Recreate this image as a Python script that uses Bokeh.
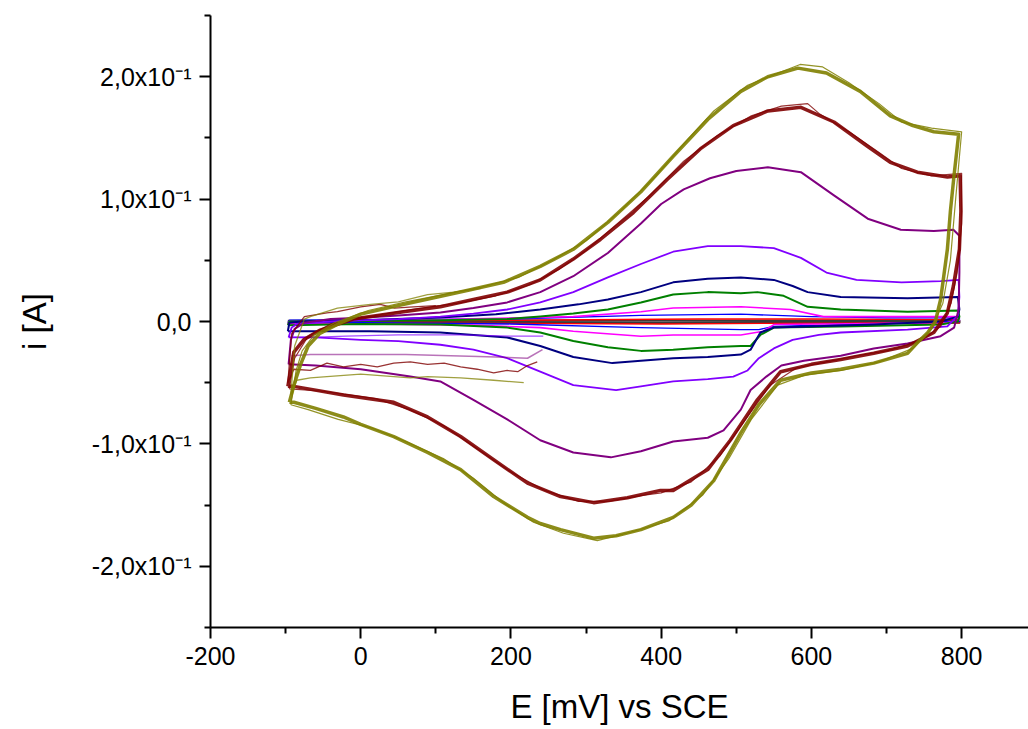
from bokeh.plotting import figure
from bokeh.models import FixedTicker, CustomJSTickFormatter, Range1d
from bokeh.embed import file_html
from bokeh.resources import INLINE

# ---------------- data (E in mV vs SCE, i in A) ----------------
X_TICKS = [-200, 0, 200, 400, 600, 800]
X_MINOR = [-100, 100, 300, 500, 700]
Y_TICKS = [-0.2, -0.1, 0.0, 0.1, 0.2]
Y_MINOR = [-0.25, -0.15, -0.05, 0.05, 0.15, 0.25]

OLIVE_1 = [(-95,-0.066),(-88,-0.050),(-80,-0.035),(-70,-0.020),(-55,-0.010),(-30,-0.002),(0,0.006),(50,0.013),
           (102,0.020),(146,0.026),(190,0.032),(239,0.045),(283,0.059),(329,0.081),(373,0.106),(416,0.135),
           (462,0.165),(506,0.188),(542,0.200),(582,0.207),(620,0.203),(665,0.188),(705,0.168),(735,0.160),
           (763,0.155),(796,0.153),(790,0.120),(785,0.090),(781,0.059),(772,0.018),(765,0.000),(755,-0.009),
           (740,-0.018),(728,-0.026),(683,-0.034),(639,-0.039),(600,-0.042),(559,-0.048),(530,-0.068),
           (506,-0.091),(470,-0.130),(440,-0.150),(416,-0.160),(373,-0.170),(340,-0.175),(310,-0.177),
           (266,-0.170),(239,-0.165),(222,-0.160),(177,-0.143),(133,-0.121),(89,-0.107),(44,-0.094),
           (0,-0.084),(-23,-0.078),(-60,-0.071),(-89,-0.066),(-95,-0.066)]
OLIVE_2 = [(-93,-0.068),(-86,-0.040),(-78,-0.024),(-62,-0.011),(-35,-0.001),(10,0.009),(60,0.016),(110,0.022),
           (160,0.028),(210,0.036),(255,0.050),(300,0.066),(345,0.090),(390,0.117),(430,0.145),(470,0.172),
           (515,0.193),(560,0.204),(585,0.210),(615,0.208),(650,0.195),(690,0.178),(720,0.163),(760,0.158),
           (800,0.155),(792,0.100),(785,0.050),(775,0.015),(760,-0.006),(735,-0.022),(690,-0.033),
           (640,-0.040),(590,-0.044),(555,-0.052),(520,-0.080),(490,-0.112),(455,-0.142),(410,-0.163),
           (360,-0.172),(315,-0.179),(270,-0.173),(230,-0.164),(190,-0.148),(150,-0.128),(110,-0.112),
           (60,-0.098),(15,-0.087),(-30,-0.080),(-70,-0.072),(-93,-0.068)]
OLIVE_START = [(217,-0.050),(177,-0.048),(133,-0.046),(89,-0.045),(66,-0.046),(22,-0.044),(0,-0.043),
               (-45,-0.045),(-67,-0.046),(-85,-0.048),(-93,-0.060),(-88,-0.020),(-75,0.002),(-67,0.004),
               (-31,0.011),(13,0.014),(50,0.016),(89,0.022),(124,0.024),(160,0.027)]

DARKRED_1 = [(-97,-0.053),(-92,-0.035),(-89,-0.025),(-76,-0.015),(-54,-0.007),(-10,0.002),(57,0.008),
             (106,0.012),(150,0.018),(195,0.024),(239,0.034),(283,0.051),(319,0.067),(363,0.089),(408,0.116),
             (452,0.141),(496,0.160),(542,0.172),(586,0.175),(630,0.163),(675,0.143),(705,0.130),(741,0.122),
             (781,0.118),(798,0.119),(799,0.090),(797,0.059),(789,0.029),(781,0.007),(763,-0.009),
             (728,-0.020),(683,-0.026),(639,-0.031),(600,-0.035),(559,-0.041),(528,-0.064),(492,-0.097),
             (462,-0.121),(416,-0.138),(399,-0.138),(355,-0.144),(310,-0.148),(266,-0.143),(222,-0.132),
             (177,-0.113),(133,-0.094),(89,-0.078),(44,-0.066),(-23,-0.060),(-89,-0.053),(-97,-0.053)]
DARKRED_2 = [(-95,-0.055),(-88,-0.030),(-70,-0.012),(-40,-0.002),(10,0.004),(70,0.010),(130,0.015),
             (180,0.021),(225,0.030),(265,0.043),(300,0.058),(340,0.079),(385,0.103),(430,0.131),
             (475,0.152),(520,0.168),(560,0.176),(595,0.178),(610,0.170),(650,0.155),(690,0.138),
             (720,0.125),(760,0.119),(800,0.121),(800,0.080),(794,0.040),(786,0.015),(772,-0.004),
             (745,-0.016),(700,-0.024),(660,-0.028),(620,-0.033),(580,-0.038),(545,-0.052),(510,-0.082),
             (478,-0.110),(440,-0.131),(400,-0.140),(375,-0.142),(330,-0.147),(290,-0.147),(245,-0.138),
             (200,-0.123),(155,-0.104),(110,-0.085),(65,-0.072),(20,-0.063),(-50,-0.057),(-95,-0.055)]
DARKRED_START = [(235,-0.033),(222,-0.036),(209,-0.041),(195,-0.040),(177,-0.042),(155,-0.039),(133,-0.037),
                 (111,-0.034),(89,-0.035),(66,-0.033),(44,-0.034),(22,-0.037),(0,-0.035),(-23,-0.037),
                 (-45,-0.034),(-67,-0.040),(-89,-0.039),(-97,-0.050),(-92,-0.010),(-75,0.004),(-45,0.007),
                 (-31,0.008),(0,0.012),(26,0.014),(45,0.011),(70,0.012),(100,0.013)]

PURPLE_1 = [(-96,-0.035),(-93,-0.015),(-88,-0.006),(-75,-0.001),(-40,0.002),(0,0.003),(50,0.005),(106,0.0074),
            (150,0.011),(195,0.0156),(239,0.024),(283,0.037),(329,0.056),(373,0.080),(400,0.096),(430,0.108),
            (465,0.117),(500,0.123),(542,0.126),(586,0.122),(630,0.103),(675,0.084),(719,0.075),(763,0.074),
            (789,0.075),(797,0.070),(797,0.040),(796,0.010),(790,-0.005),(772,-0.012),(728,-0.018),
            (683,-0.022),(639,-0.028),(590,-0.032),(560,-0.036),(540,-0.045),(519,-0.056),(506,-0.072),
            (483,-0.089),(462,-0.095),(416,-0.098),(373,-0.106),(333,-0.111),(283,-0.107),(239,-0.097),
            (195,-0.080),(150,-0.064),(106,-0.049),(66,-0.045),(0,-0.039),(-60,-0.036),(-96,-0.035)]
PURPLE_START = [(242,-0.023),(222,-0.030),(180,-0.029),(120,-0.028),(60,-0.027),(0,-0.027),(-67,-0.027),
                (-92,-0.028)]

VIOLET_1 = [(-96,-0.013),(-92,-0.005),(-85,-0.002),(-40,0.0),(0,0.001),(50,0.002),(106,0.004),(150,0.0065),
            (195,0.0098),(239,0.0156),(283,0.024),(329,0.036),(373,0.047),(416,0.057),(462,0.0615),
            (506,0.0615),(550,0.060),(586,0.052),(620,0.040),(660,0.034),(720,0.032),(772,0.033),(796,0.034),
            (797,0.020),(795,0.005),(781,-0.004),(728,-0.0066),(639,-0.009),(610,-0.011),(575,-0.015),
            (550,-0.022),(530,-0.030),(515,-0.040),(496,-0.045),(462,-0.047),(416,-0.049),(373,-0.053),
            (340,-0.056),(283,-0.052),(239,-0.041),(195,-0.030),(150,-0.023),(106,-0.019),(50,-0.016),
            (0,-0.015),(-60,-0.013),(-96,-0.013)]
VIOLET_START = [(243,-0.012),(200,-0.012),(133,-0.011),(50,-0.011),(-20,-0.012),(-67,-0.013),(-92,-0.013)]

NAVY_1 = [(-97,-0.008),(-95,-0.001),(-80,0.0),(0,0.001),(106,0.0033),(180,0.006),(239,0.0098),(290,0.014),
          (329,0.018),(373,0.024),(416,0.032),(462,0.035),(506,0.036),(550,0.034),(575,0.029),(595,0.024),
          (639,0.020),(728,0.019),(795,0.020),(797,0.010),(795,0.004),(772,0.0),(683,-0.0025),(595,-0.004),
          (550,-0.005),(532,-0.009),(519,-0.023),(506,-0.027),(462,-0.029),(416,-0.030),(373,-0.032),
          (335,-0.034),(283,-0.029),(239,-0.020),(195,-0.013),(106,-0.009),(13,-0.008),(-97,-0.008)]

GREEN_1 = [(-97,-0.003),(-95,0.0),(0,0.0005),(106,0.001),(195,0.002),(239,0.004),(283,0.0065),(329,0.0098),
           (373,0.0156),(416,0.022),(462,0.024),(506,0.023),(528,0.024),(563,0.021),(595,0.012),(639,0.0098),
           (728,0.008),(795,0.009),(797,0.004),(795,0.0),(772,-0.0025),(639,-0.004),(550,-0.005),
           (532,-0.011),(519,-0.020),(506,-0.020),(462,-0.021),(416,-0.023),(373,-0.024),(329,-0.021),
           (283,-0.016),(239,-0.009),(195,-0.005),(106,-0.0025),(0,-0.002),(-97,-0.003)]

MAGENTA_1 = [(-97,-0.002),(-95,0.0),(100,0.0015),(283,0.004),(373,0.008),(416,0.011),(506,0.012),(572,0.0098),
             (616,0.004),(700,0.004),(795,0.004),(797,0.001),(780,-0.001),(550,-0.0025),(536,-0.008),
             (506,-0.011),(416,-0.011),(373,-0.012),(283,-0.008),(239,-0.005),(150,-0.003),(0,-0.002),
             (-97,-0.002)]

BLUE_1 = [(-97,-0.001),(-95,0.001),(200,0.002),(373,0.005),(506,0.006),(600,0.004),(700,0.003),(797,0.003),
          (797,0.0),(550,-0.004),(530,-0.0066),(506,-0.0066),(373,-0.005),(200,-0.002),(0,-0.001),(-97,-0.001)]

RED_1 = [(-97,0.0),(200,0.001),(450,0.002),(600,0.002),(797,0.0015),(797,-0.001),(550,-0.0015),(400,-0.002),
         (200,-0.0015),(-97,-0.001)]

BLACK_1 = [(-97,0.0005),(400,0.0008),(797,0.0005),(797,-0.001),(400,-0.0012),(-97,-0.0008)]

# ---------------- figure ----------------
p = figure(width=1028, height=729, x_range=Range1d(-200, 889), y_range=Range1d(-0.25, 0.25),
           output_backend="svg", toolbar_location=None,
           min_border_left=210, min_border_right=0, min_border_top=15, min_border_bottom=102)
p.outline_line_color = None
p.grid.visible = False
p.background_fill_color = "white"
p.border_fill_color = "white"

def draw(pairs, color, width, alpha=1.0):
    xs = [a for a, b in pairs]
    ys = [b for a, b in pairs]
    p.line(xs, ys, line_color=color, line_width=width, line_alpha=alpha, line_join="round")

draw(BLACK_1, "#3a3a3a", 2.2)
draw(RED_1, "#FF0000", 1.4)
draw(BLUE_1, "#0000FF", 1.4)
draw(MAGENTA_1, "#FF00FF", 1.6)
draw(GREEN_1, "#008000", 2.0)
draw(NAVY_1, "#000080", 2.0)
draw(VIOLET_START, "#8000FF", 1.3, 0.7)
draw(VIOLET_1, "#8000FF", 1.8)
draw(PURPLE_START, "#800080", 1.6, 0.55)
draw(PURPLE_1, "#800080", 2.0)
draw(DARKRED_START, "#800000", 1.3, 0.8)
draw(DARKRED_2, "#800000", 1.2, 0.8)
draw(DARKRED_1, "#800000", 3.5, 0.9)
draw(OLIVE_START, "#808000", 1.3, 0.75)
draw(OLIVE_2, "#808000", 1.2, 0.85)
draw(OLIVE_1, "#808000", 3.5, 0.9)

# ---------------- axes ----------------
p.xaxis.ticker = FixedTicker(ticks=X_TICKS, minor_ticks=X_MINOR)
p.yaxis.ticker = FixedTicker(ticks=Y_TICKS, minor_ticks=Y_MINOR)
p.xaxis.formatter = CustomJSTickFormatter(code="return tick.toFixed(0);")
p.yaxis.formatter = CustomJSTickFormatter(code="""
    if (Math.abs(tick) < 1e-9) { return "0,0"; }
    return (tick * 10).toFixed(1).replace(".", ",") + "x10\u207B\u00B9";
""")
for ax in (p.xaxis[0], p.yaxis[0]):
    ax.axis_line_width = 2
    ax.axis_line_color = "black"
    ax.major_tick_line_width = 2
    ax.minor_tick_line_width = 2
    ax.major_tick_line_color = "black"
    ax.minor_tick_line_color = "black"
    ax.major_tick_in = 0
    ax.major_tick_out = 11
    ax.minor_tick_in = 0
    ax.minor_tick_out = 6
    ax.major_label_text_font = "Liberation Sans"
    ax.major_label_text_font_size = "25px"
    ax.major_label_text_color = "black"
    ax.major_label_standoff = 8
    ax.axis_label_text_font = "Liberation Sans"
    ax.axis_label_text_font_size = "33px"
    ax.axis_label_text_font_style = "normal"
    ax.axis_label_text_color = "black"

p.xaxis.axis_label = "E [mV] vs SCE"
p.yaxis.axis_label = "i [A]"
p.xaxis.axis_label_standoff = 20
p.yaxis.axis_label_standoff = 36

open("out.html", "w").write(file_html(p, INLINE))
